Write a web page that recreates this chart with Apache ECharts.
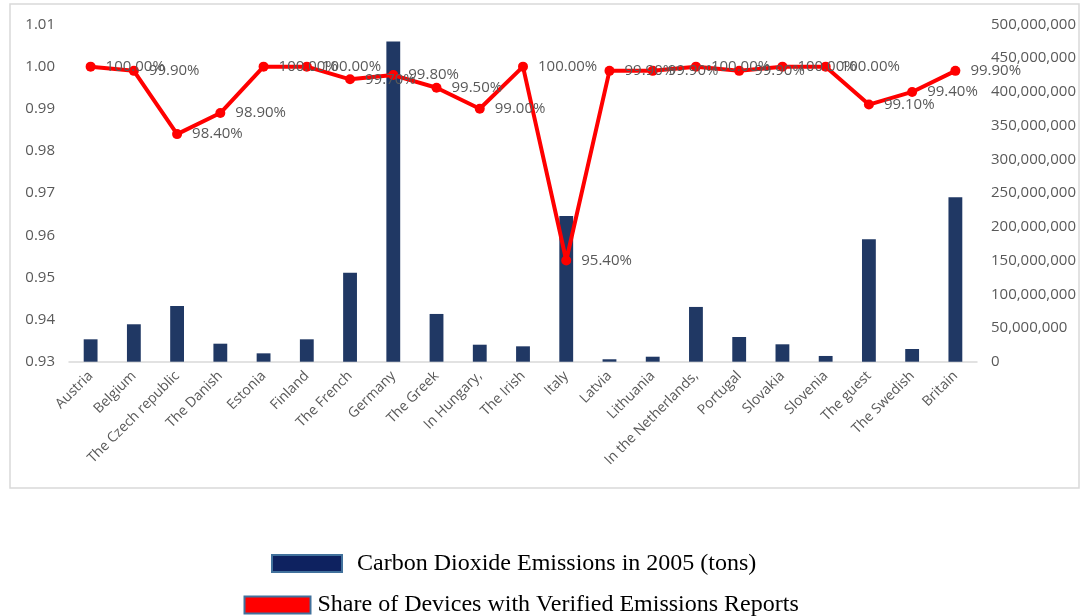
<!DOCTYPE html>
<html>
<head>
<meta charset="utf-8">
<style>
  html, body { margin: 0; padding: 0; background: #ffffff; }
  #chart { width: 1080px; height: 616px; }
</style>
<script src="https://cdn.jsdelivr.net/npm/echarts@6/dist/echarts.min.js"></script>
</head>
<body>
<div id="chart"></div>
<script>
// Countries along the category axis
const countries = [
  'Austria', 'Belgium', 'The Czech republic', 'The Danish', 'Estonia', 'Finland',
  'The French', 'Germany', 'The Greek', 'In Hungary,', 'The Irish', 'Italy',
  'Latvia', 'Lithuania', 'In the Netherlands,', 'Portugal', 'Slovakia', 'Slovenia',
  'The guest', 'The Swedish', 'Britain'
];

// CO2 emissions in 2005 (tons), right axis
const emissions2005 = [
  33200000, 55500000, 82600000, 26700000, 12400000, 33200000,
  132000000, 474800000, 70800000, 25200000, 22800000, 216200000,
  3600000, 7400000, 81200000, 36600000, 25800000, 8500000,
  181600000, 18800000, 244000000
];

// Share of installations with verified emission reports, left axis
const verifiedShare = [
  1.000, 0.999, 0.984, 0.989, 1.000, 1.000,
  0.997, 0.998, 0.995, 0.990, 1.000, 0.954,
  0.999, 0.999, 1.000, 0.999, 1.000, 1.000,
  0.991, 0.994, 0.999
];

// Tick settings for the two value axes
const leftTicks = { min: 0.93, max: 1.01, step: 0.01 };
const rightTicks = { min: 0, max: 500000000, step: 50000000 };

const seriesNames = [
  'Carbon Dioxide Emissions in 2005 (tons)',
  'Share of Devices with Verified Emissions Reports'
];

const axisFont = { fontFamily: 'Open Sans', fontSize: 15, color: '#595959' };
const legendFont = { fontFamily: 'Liberation Serif', fontSize: 24, lineHeight: 24, color: '#000000' };

const chart = echarts.init(document.getElementById('chart'), null, { renderer: 'canvas' });

chart.setOption({
  backgroundColor: '#ffffff',
  animation: false,
  graphic: [{
    type: 'rect',
    shape: { x: 10, y: 4, width: 1069, height: 484 },
    style: { fill: 'none', stroke: '#d9d9d9', lineWidth: 1.5 },
    silent: true,
    z: -10
  }],
  legend: [
    {
      data: [{ name: seriesNames[0], icon: 'rect',
        itemStyle: { color: '#0e2260', borderColor: '#41719c', borderWidth: 2 } }],
      left: 271, top: 551.5, padding: 0,
      itemWidth: 70, itemHeight: 17,
      textStyle: Object.assign({ padding: [0, 0, 0, 10] }, legendFont),
      selectedMode: false
    },
    {
      data: [{ name: seriesNames[1], icon: 'rect',
        itemStyle: { color: '#ff0000', borderColor: '#41719c', borderWidth: 2 } }],
      left: 243.5, top: 593, padding: 0,
      itemWidth: 66, itemHeight: 17,
      textStyle: Object.assign({ padding: [0, 0, 0, 2] }, legendFont),
      selectedMode: false
    }
  ],
  grid: { left: 69, right: 103, top: 24.5, bottom: 254.3, containLabel: false },
  xAxis: {
    type: 'category',
    data: countries,
    axisLine: { show: true, lineStyle: { color: '#d9d9d9', width: 1.5 } },
    axisTick: { show: false },
    axisLabel: Object.assign({}, axisFont, { fontSize: 14, rotate: 45, margin: 12, interval: 0 })
  },
  yAxis: [
    {
      type: 'value',
      position: 'left',
      min: leftTicks.min, max: leftTicks.max, interval: leftTicks.step,
      axisLine: { show: false },
      axisTick: { show: false },
      splitLine: { show: false },
      axisLabel: Object.assign({ margin: 14, formatter: v => v.toFixed(2) }, axisFont)
    },
    {
      type: 'value',
      position: 'right',
      min: rightTicks.min, max: rightTicks.max, interval: rightTicks.step,
      axisLine: { show: false },
      axisTick: { show: false },
      splitLine: { show: false },
      axisLabel: Object.assign({ margin: 14, formatter: v => Math.round(v).toLocaleString('en-US') }, axisFont)
    }
  ],
  series: [
    {
      name: seriesNames[0],
      type: 'bar',
      yAxisIndex: 1,
      data: emissions2005,
      barWidth: '32%',
      itemStyle: { color: '#203864' },
      z: 2
    },
    {
      name: seriesNames[1],
      type: 'line',
      yAxisIndex: 0,
      data: verifiedShare,
      symbol: 'circle',
      symbolSize: 10,
      lineStyle: { color: '#ff0000', width: 4 },
      itemStyle: { color: '#ff0000' },
      label: {
        show: true,
        position: 'right',
        distance: 10,
        fontFamily: 'Open Sans',
        fontSize: 15,
        color: '#595959',
        formatter: p => (p.value * 100).toFixed(2) + '%'
      },
      z: 3
    }
  ]
});
</script>
</body>
</html>
